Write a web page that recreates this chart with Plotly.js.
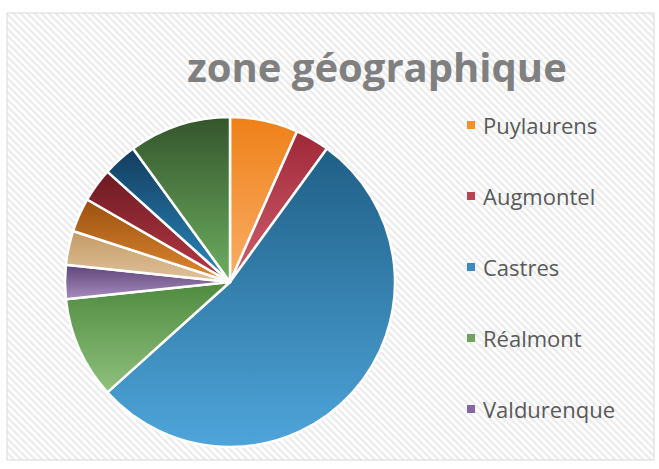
<!DOCTYPE html>
<html><head><meta charset="utf-8">
<script src="https://cdn.plot.ly/plotly-3.0.1.min.js"></script>
<style>html,body{margin:0;padding:0;background:#fff}#c{width:659px;height:469px}</style>
</head><body><div id="c"></div>
<script>
const labels = ["Puylaurens","Augmontel","Castres","Réalmont","Valdurenque","Autre 6","Autre 7","Autre 8","Autre 9","Autre 10"];
const values = [2,1,16,3,1,1,1,1,1,3];
const colors = ["#F4912B","#BA4352","#3A8BBF","#6FA35C","#8267A0","#D2AE80","#C06F20","#902A36","#1F5F8C","#4F803F"];
const colorsTop = ["#EF8018","#A02838","#1F5F86","#4F8A3F","#5E4478","#C49A65","#9A5010","#6C1A22","#133D5E","#34552C"];
const colorsBottom = ["#F9AF67","#D0606E","#4EA5DA","#8FC17D","#A88CC0","#E0C29C","#E08A30","#B83A48","#2A88C0","#6EAE60"];
const legendCount = 5;
const title = "zone géographique";

const W=659,H=469;
const bg = {type:'scatter', x:[7,654,654,7,7], y:[13,13,460,460,13], mode:'lines', fill:'toself',
  line:{color:'#d9d9d9', width:1}, fillcolor:'#ffffff',
  fillpattern:{shape:'\\', fgcolor:'#ebebeb', bgcolor:'#ffffff', size:5, solidity:0.45},
  hoverinfo:'skip', showlegend:false, xaxis:'x', yaxis:'y'};

const cx=230, cy=282, r=165;
const pie = {type:'pie', labels:labels, values:values, sort:false, direction:'clockwise', rotation:0,
  marker:{colors:colors, line:{color:'#ffffff', width:2.5}}, textinfo:'none', showlegend:false,
  domain:{x:[(cx-r)/W,(cx+r)/W], y:[(H-cy-r)/H,(H-cy+r)/H]}};

const ann=[], shapes=[];
for(let i=0;i<legendCount;i++){
  const y = 125 + i*71;
  ann.push({xref:'x', yref:'y', x:481, y:y, text:labels[i], showarrow:false, xanchor:'left', yanchor:'middle',
    font:{family:'Open Sans, sans-serif', size:22, color:'#595959'}});
  shapes.push({type:'rect', xref:'x', yref:'y', x0:467, x1:475, y0:y-4, y1:y+4, fillcolor:colors[i], line:{width:0}});
}

const layout = {width:W, height:H, margin:{l:0,r:0,t:0,b:0}, paper_bgcolor:'#ffffff', plot_bgcolor:'rgba(0,0,0,0)',
  xaxis:{range:[0,W], visible:false, fixedrange:true},
  yaxis:{range:[H,0], visible:false, fixedrange:true},
  title:{text:'<b>'+title+'</b>', x:377/W, xanchor:'center', y:1-68/H, yanchor:'middle', yref:'container', xref:'container',
    font:{family:'Open Sans, sans-serif', size:40, color:'#808080'}},
  annotations:ann, shapes:shapes, showlegend:false};
Plotly.newPlot('c',[bg,pie],layout,{displayModeBar:false,staticPlot:true}).then(function(gd){
  const NS='http://www.w3.org/2000/svg';
  const svg = gd.querySelector('svg.main-svg');
  let defs = svg.querySelector('defs');
  if(!defs){defs=document.createElementNS(NS,'defs'); svg.insertBefore(defs, svg.firstChild);}
  const mk=(id,top,bot)=>{
    const g=document.createElementNS(NS,'linearGradient'); g.setAttribute('id',id);
    g.setAttribute('x1','0');g.setAttribute('y1','0');g.setAttribute('x2','0');g.setAttribute('y2','1');
    [[0,top],[1,bot]].forEach(([o,c])=>{const s=document.createElementNS(NS,'stop');s.setAttribute('offset',o);s.setAttribute('stop-color',c);g.appendChild(s);});
    defs.appendChild(g);
  };
  colors.forEach((c,i)=>{mk('sg'+i,colorsTop[i],colorsBottom[i]);});
  gd.querySelectorAll('g.slice path.surface').forEach((p,i)=>{p.style.fill='url(#sg'+i+')';});
});
</script></body></html>
